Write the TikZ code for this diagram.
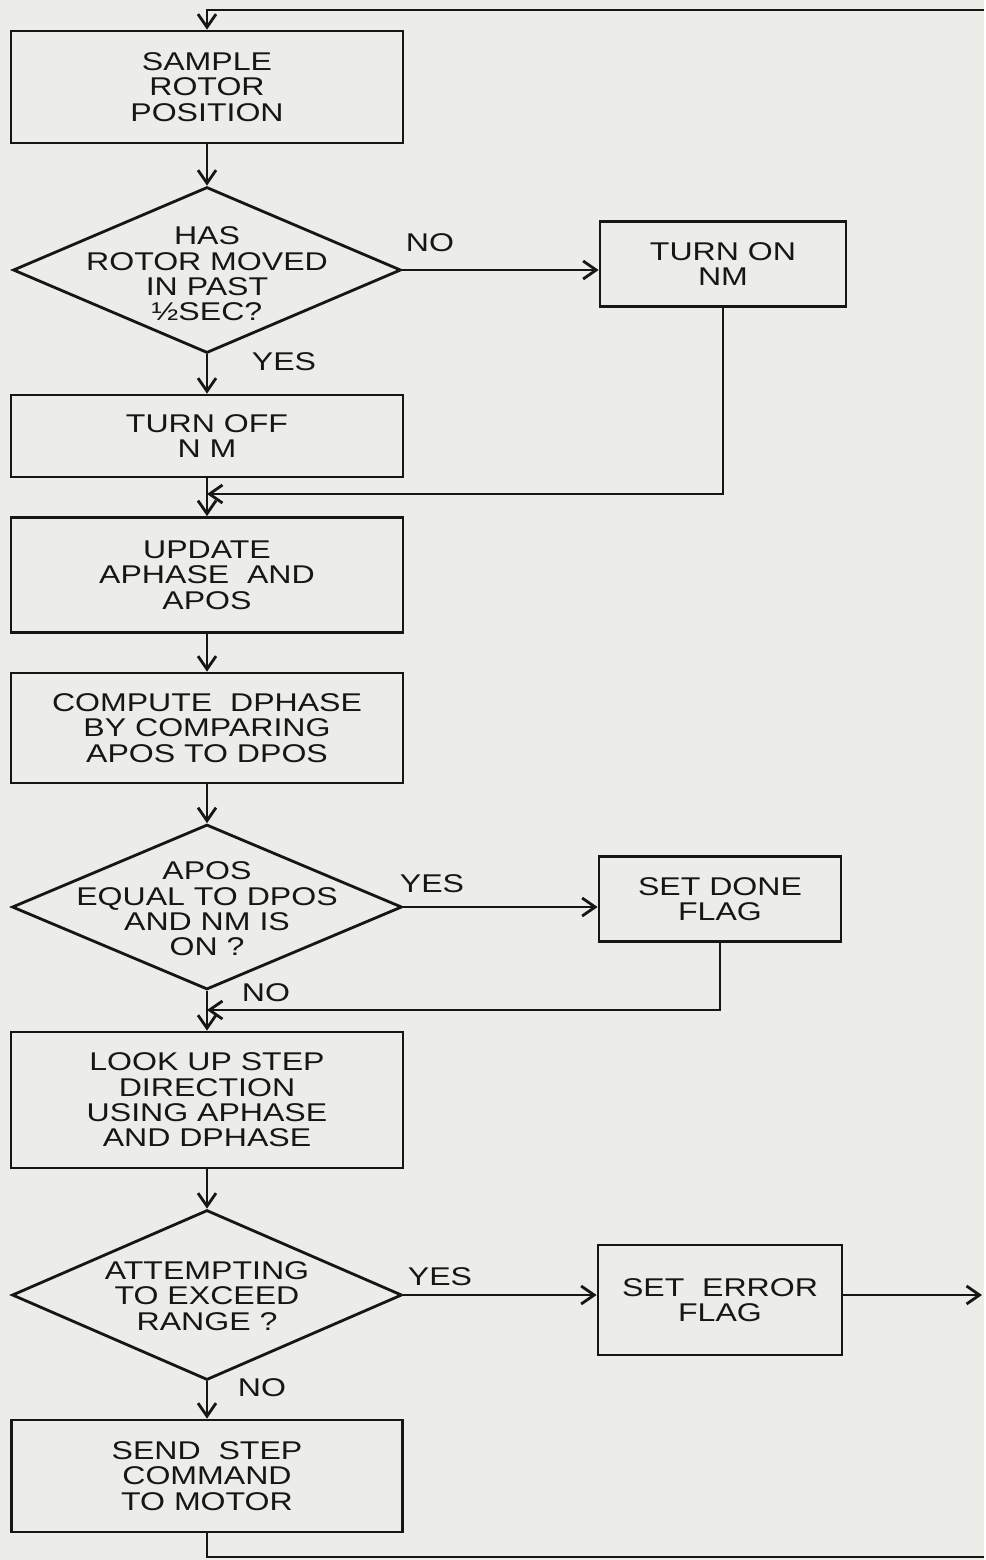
\documentclass[tikz,border=0pt]{standalone}
\usepackage{fontspec}
\setmainfont{Liberation Sans}[FakeStretch=1.25]
\usepackage{tikz}
\usetikzlibrary{shapes.geometric,arrows.meta,positioning}
\definecolor{paper}{RGB}{236,236,233}
\definecolor{ink}{RGB}{22,22,22}
\tikzstyle{arrow} = [
    line width=1.6pt,
    draw=ink,
    -{Straight Barb[length=2.6mm,width=3.6mm]}
]
\tikzstyle{line} = [
    line width=1.6pt,
    draw=ink
]
\tikzstyle{box} = [
    rectangle,
    draw=ink,
    line width=1.6pt,
    inner sep=0pt,
    align=center,
    text=ink,
    font=\fontsize{14.6}{14.4}\selectfont
]
\tikzstyle{decision} = [
    diamond,
    draw=ink,
    line width=1.6pt,
    inner sep=0pt
]
\tikzstyle{txt} = [
    inner sep=0pt,
    align=center,
    text=ink,
    font=\fontsize{14.6}{14.4}\selectfont
]

\begin{document}
\begin{tikzpicture}[x=0.02cm, y=-0.02cm]
        % Paper
        \fill[paper] (0,0) rectangle (984,1560);

        % Main column
        \node[box, minimum width=7.84cm, minimum height=2.24cm] (sample) at (207,87) {SAMPLE\\ROTOR\\POSITION};
        \node[decision, minimum width=7.76cm, minimum height=3.32cm] (q1) at (207,270) {};
        \node[txt] (q1t) at (207,274) {HAS\\ROTOR MOVED\\IN PAST\\½SEC?};
        \node[box, minimum width=7.84cm, minimum height=1.64cm] (turnoff) at (207,436) {TURN OFF\\N M};
        \node[box, minimum width=7.84cm, minimum height=2.30cm] (update) at (207,575) {UPDATE\\APHASE\ \ AND\\APOS};
        \node[box, minimum width=7.84cm, minimum height=2.20cm] (compute) at (207,728) {COMPUTE\ \ DPHASE\\BY COMPARING\\APOS TO DPOS};
        \node[decision, minimum width=7.80cm, minimum height=3.30cm] (q2) at (207,907) {};
        \node[txt] (q2t) at (207,909) {APOS\\EQUAL TO DPOS\\AND\ NM IS\\ON ?};
        \node[box, minimum width=7.84cm, minimum height=2.72cm] (lookup) at (207,1100) {LOOK UP STEP\\DIRECTION\\USING APHASE\\AND DPHASE};
        \node[decision, minimum width=7.80cm, minimum height=3.40cm] (q3) at (207,1295) {};
        \node[txt] (q3t) at (207,1296) {ATTEMPTING\\TO EXCEED\\RANGE ?};
        \node[box, minimum width=7.82cm, minimum height=2.24cm] (send) at (207,1476) {SEND\ \ STEP\\COMMAND\\TO MOTOR};

        % Side column
        \node[box, minimum width=4.92cm, minimum height=1.70cm] (turnon) at (723,264) {TURN ON\\NM};
        \node[box, minimum width=4.84cm, minimum height=1.70cm] (setdone) at (720,899) {SET\ DONE\\FLAG};
        \node[box, minimum width=4.88cm, minimum height=2.20cm] (seterror) at (720,1300) {SET\ \ ERROR\\FLAG};

        % Branch labels
        \node[txt] (no1) at (430,243) {NO};
        \node[txt] (yes1) at (284,362) {YES};
        \node[txt] (yes2) at (432,884) {YES};
        \node[txt] (no2) at (266,993) {NO};
        \node[txt] (yes3) at (440,1277) {YES};
        \node[txt] (no3) at (262,1388) {NO};

        % Free ends
        \coordinate (topR) at (984,10);
        \coordinate (botR) at (984,1557);
        \coordinate (errR) at (982,1295);
        \coordinate (m1) at (207,494);
        \coordinate (m2) at (207,1010);

        % Flow
        \draw[arrow] (topR) -| (sample.north);
        \draw[arrow] (sample) -- (q1);
        \draw[arrow] (q1.east) -- (q1.east -| turnon.west);
        \draw[arrow] (q1) -- (turnoff);
        \draw[arrow] (turnoff) -- (update);
        \draw[arrow] (turnon.south) |- (m1);
        \draw[arrow] (update) -- (compute);
        \draw[arrow] (compute) -- (q2);
        \draw[arrow] (q2.east) -- (q2.east -| setdone.west);
        \draw[arrow] (q2) -- (lookup);
        \draw[arrow] (setdone.south) |- (m2);
        \draw[arrow] (lookup) -- (q3);
        \draw[arrow] (q3.east) -- (q3.east -| seterror.west);
        \draw[arrow] (seterror.east |- errR) -- (errR);
        \draw[arrow] (q3) -- (send);
        \draw[line] (send.south) |- (botR);
    \end{tikzpicture}
\end{document}
